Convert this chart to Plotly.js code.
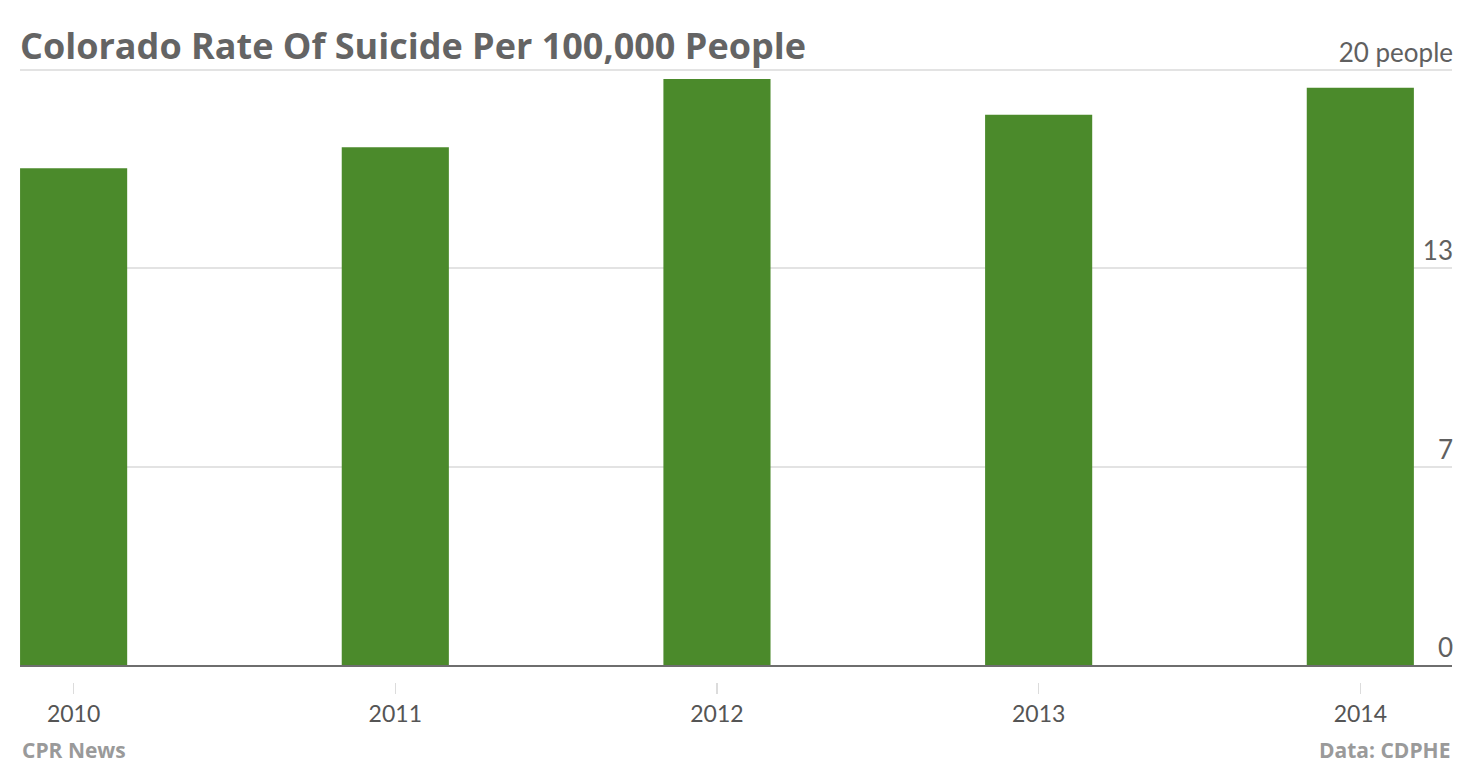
<!DOCTYPE html>
<html>
<head>
<meta charset="utf-8">
<script src="https://cdn.plot.ly/plotly-3.0.1.min.js"></script>
<style>html,body{margin:0;padding:0;background:#fff;}#chart{width:1472px;height:766px;}</style>
</head>
<body>
<div id="chart"></div>
<script>
const years = ["2010", "2011", "2012", "2013", "2014"];
const rates = [16.7, 17.4, 19.7, 18.5, 19.4];
const yTickVals = [0, 6.667, 13.333, 20];
const yTickText = ["0", "7", "13", "20 people"];
const titleText = "Colorado Rate Of Suicide Per 100,000 People";
const sourceLeft = "CPR News";
const sourceRight = "Data: CDPHE";

const FONT = "Lato, 'Source Sans Pro', 'Open Sans', sans-serif";
const BOLD = "'Open Sans', Lato, sans-serif";

const trace = {
  type: "bar",
  x: years,
  y: rates,
  marker: {color: "#4b8a2b", line: {width: 0}},
  hoverinfo: "x+y"
};
// invisible trace to activate the tick axis below the plot
const tickTrace = {
  type: "scatter", mode: "markers", x: years, y: rates,
  xaxis: "x2", yaxis: "y", marker: {opacity: 0}, hoverinfo: "skip"
};

const layout = {
  width: 1472, height: 766,
  margin: {l: 20, r: 20, t: 69, b: 84},
  paper_bgcolor: "#fff", plot_bgcolor: "#fff",
  bargap: 0.667,
  showlegend: false,
  title: {
    text: "<b>" + titleText + "</b>",
    font: {family: BOLD, size: 36, color: "#646464"},
    xref: "paper", x: 0, xanchor: "left",
    yref: "container", y: 0.94, yanchor: "middle"
  },
  xaxis: {
    type: "category",
    range: [-0.1667, 4.285],
    showgrid: false,
    showline: true, linecolor: "#6e6e6e", linewidth: 2,
    ticks: "",
    showticklabels: false,
    zeroline: false,
    fixedrange: true
  },
  xaxis2: {
    type: "category",
    overlaying: "x",
    matches: "x",
    anchor: "free",
    position: 0,
    side: "bottom",
    range: [-0.1667, 4.285],
    showgrid: false, showline: false, zeroline: false,
    ticks: "outside", ticklen: 11, tickwidth: 1.5, tickcolor: "#dcdcdc",
    ticklabelstandoff: 0,
    tickfont: {family: FONT, size: 23, color: "#555"},
    fixedrange: true
  },
  yaxis: {
    domain: [0.02773, 1],
    range: [0, 20.034],
    side: "right",
    tickmode: "array",
    tickvals: yTickVals,
    ticktext: yTickText,
    ticklabelposition: "inside",
    ticklabeloverflow: "allow",
    ticklabelshift: -17,
    ticklabelstandoff: -4,
    ticks: "",
    showgrid: true, gridcolor: "#e3e3e3", gridwidth: 2,
    zeroline: false,
    showline: false,
    tickfont: {family: FONT, size: 26, color: "#606060"},
    fixedrange: true
  },
  annotations: [
    {text: "<b>" + sourceLeft + "</b>", xref: "paper", yref: "paper", x: 0, y: -0.111,
     xanchor: "left", yanchor: "middle", showarrow: false,
     font: {family: BOLD, size: 21, color: "#9a9a9a"}},
    {text: "<b>" + sourceRight + "</b>", xref: "paper", yref: "paper", x: 1, y: -0.111,
     xanchor: "right", yanchor: "middle", showarrow: false,
     font: {family: BOLD, size: 21, color: "#9a9a9a"}}
  ]
};

Plotly.newPlot("chart", [trace, tickTrace], layout, {displayModeBar: false, staticPlot: true});
</script>
</body>
</html>
